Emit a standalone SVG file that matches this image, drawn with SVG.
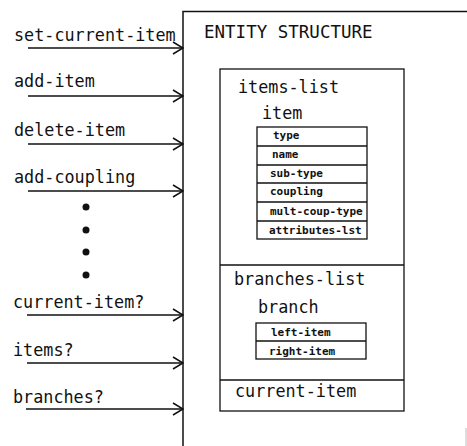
<svg xmlns="http://www.w3.org/2000/svg" width="467" height="446" viewBox="0 0 467 446">
  <style>
    .lbl { font-family: "DejaVu Sans Mono", "Liberation Mono", monospace; font-size: 16.8px; fill: #111; }
    .title { font-family: "DejaVu Sans Mono", "Liberation Mono", monospace; font-size: 17.5px; fill: #111; }
    .fld { font-family: "DejaVu Sans Mono", "Liberation Mono", monospace; font-size: 11px; font-weight: bold; fill: #111; }
    .ln { stroke: #111; stroke-width: 1.5; fill: none; }
    .box { stroke: #111; stroke-width: 1.3; fill: none; }
  </style>
  <defs>
    <marker id="chev" markerWidth="12" markerHeight="14" refX="11" refY="7" orient="auto" markerUnits="userSpaceOnUse">
      <path d="M1,1 L11,7 L1,13" fill="none" stroke="#111" stroke-width="1.5"/>
    </marker>
  </defs>
  <rect width="467" height="446" fill="#fff"/>

  <!-- outer entity box: left side and top -->
  <g id="entity-structure">
    <path class="ln" d="M183,446 L183,11.5 L467,11.5"/>
    <line x1="466" y1="428" x2="466" y2="446" stroke="#bbb" stroke-width="1"/>
    <text class="title" x="204" y="38">ENTITY STRUCTURE</text>
  </g>

  <!-- inner container -->
  <g id="items-list">
    <rect class="box" x="220" y="69" width="184" height="342"/>
    <line class="box" x1="220" y1="265" x2="404" y2="265"/>
    <text class="lbl" x="238" y="93">items-list</text>
    <text class="lbl" x="262" y="119">item</text>
  </g>

  <g id="item-fields">
    <rect class="box" x="257" y="127" width="110" height="112"/>
    <line class="box" x1="257" y1="146" x2="367" y2="146"/>
    <line class="box" x1="257" y1="165" x2="367" y2="165"/>
    <line class="box" x1="257" y1="183" x2="367" y2="183"/>
    <line class="box" x1="257" y1="202" x2="367" y2="202"/>
    <line class="box" x1="257" y1="221" x2="367" y2="221"/>
    <text class="fld" x="273" y="139">type</text>
    <text class="fld" x="272" y="158">name</text>
    <text class="fld" x="270" y="177">sub-type</text>
    <text class="fld" x="270" y="195">coupling</text>
    <text class="fld" x="270" y="215">mult-coup-type</text>
    <text class="fld" x="269" y="234">attributes-lst</text>
  </g>

  <g id="branches-list">
    <text class="lbl" x="234" y="285">branches-list</text>
    <text class="lbl" x="258" y="313">branch</text>
  </g>

  <g id="branch-fields">
    <rect class="box" x="256" y="323" width="110" height="36"/>
    <line class="box" x1="256" y1="341" x2="366" y2="341"/>
    <text class="fld" x="271" y="336">left-item</text>
    <text class="fld" x="269" y="355">right-item</text>
  </g>

  <g id="current-item">
    <line class="box" x1="220" y1="380" x2="404" y2="380"/>
    <text class="lbl" x="235" y="397">current-item</text>
  </g>

  <!-- operation labels -->
  <g id="operations">
    <text class="lbl" x="14" y="41">set-current-item</text>
    <text class="lbl" x="14" y="87">add-item</text>
    <text class="lbl" x="14" y="136">delete-item</text>
    <text class="lbl" x="14" y="183">add-coupling</text>
    <text class="lbl" x="13" y="308">current-item?</text>
    <text class="lbl" x="13" y="356">items?</text>
    <text class="lbl" x="13" y="403">branches?</text>
    <circle cx="86" cy="207" r="3.5" fill="#111"/>
    <circle cx="86" cy="230" r="3.5" fill="#111"/>
    <circle cx="86" cy="252" r="3.5" fill="#111"/>
    <circle cx="86" cy="275" r="3.5" fill="#111"/>
  </g>

  <!-- connectors -->
  <g id="connectors">
    <line class="ln" x1="28" y1="48" x2="183" y2="48" marker-end="url(#chev)"/>
    <line class="ln" x1="28" y1="96" x2="183" y2="96" marker-end="url(#chev)"/>
    <line class="ln" x1="28" y1="144" x2="183" y2="144" marker-end="url(#chev)"/>
    <line class="ln" x1="28" y1="191" x2="183" y2="191" marker-end="url(#chev)"/>
    <line class="ln" x1="27" y1="315" x2="183" y2="315" marker-end="url(#chev)"/>
    <line class="ln" x1="27" y1="363" x2="183" y2="363" marker-end="url(#chev)"/>
    <line class="ln" x1="26" y1="409" x2="183" y2="409" marker-end="url(#chev)"/>
  </g>
</svg>
